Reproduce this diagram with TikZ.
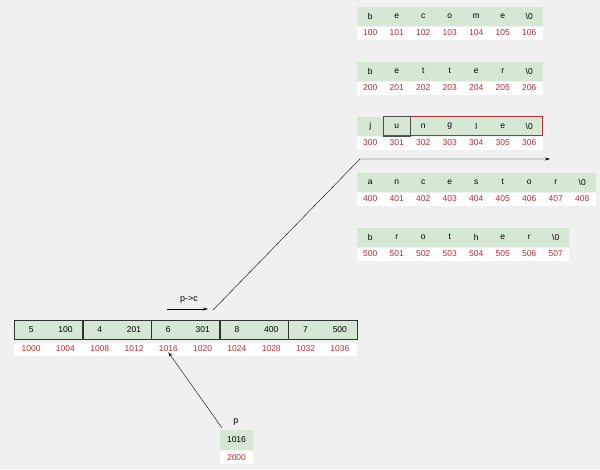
\documentclass[tikz,border=0pt]{standalone}
\usepackage{fontspec}
\setmainfont{Liberation Sans}
\usetikzlibrary{arrows.meta}
\definecolor{bg}{HTML}{F0F0F0}
\definecolor{cellg}{HTML}{D5E8D4}
\definecolor{addr}{HTML}{C0282F}
\tikzset{
  cell/.style={fill=cellg,draw=none,minimum width=26.5pt,minimum height=19pt,inner sep=0pt,font=\fontsize{8.5}{9}\selectfont},
  adr/.style={text=addr,font=\fontsize{8.5}{9}\selectfont,inner sep=0pt},
  lbl/.style={font=\fontsize{9}{10}\selectfont,inner sep=0pt},
  arr/.style={-{Stealth[length=5pt,width=3pt]},thin}
}
\begin{document}
\begin{tikzpicture}[x=1pt,y=-1pt]
\fill[bg] (0,0) rectangle (600,469);
\useasboundingbox (0,0) rectangle (600,469);
% strings
\foreach \row/\y/\base/\chars in {0/16/100/{b,e,c,o,m,e,\textbackslash 0},1/71/200/{b,e,t,t,e,r,\textbackslash 0},2/126/300/{j,u,n,g,l,e,\textbackslash 0},3/182/400/{a,n,c,e,s,t,o,r,\textbackslash 0},4/237/500/{b,r,o,t,h,e,r,\textbackslash 0}}{
  \foreach \c [count=\i from 0] in \chars {
    \node[cell] (s\row-\i) at ({370.25+26.5*\i},\y) {\c};
    \pgfmathtruncatemacro{\a}{\base+\i}
    \fill[white] ({357+26.5*\i},{\y+11}) rectangle ({383.5+26.5*\i},{\y+24});
    \node[adr] (a\row-\i) at ({370.25+26.5*\i},{\y+17}) {\a};
  }
}
\draw[addr,thick] (s2-1.north west) rectangle (s2-6.south east);
\draw[black!70] (s2-1.north west) rectangle (s2-1.south east);
% bottom array
\foreach \v [count=\i from 0] in {5,100,4,201,6,301,8,400,7,500}{
  \node[cell,minimum width=34.3pt] (b\i) at ({14+17.15+34.3*\i},329.5) {\v};
  \pgfmathtruncatemacro{\a}{1000+4*\i}
  \fill[white] ({14+34.3*\i},343) rectangle ({48.3+34.3*\i},356);
  \node[adr] (ba\i) at ({14+17.15+34.3*\i},349) {\a};
}
\foreach \i in {0,2,4,6,8}{
  \pgfmathtruncatemacro{\j}{\i+1}
  \draw[black!80] (b\i.north west) rectangle (b\j.south east);
}
% p->c
\node[lbl] (pc) at (189,300) {p->c};
\coordinate (pcs) at (167,309);
\coordinate (pce) at (208,309);
\draw[arr] (pcs) -- (pce);
\coordinate (up0) at (213,310);
\coordinate (up1) at (360,159);
\coordinate (up2) at (550,159);
\draw[arr] (up0) -- (up1) -- (up2);
% p
\node[lbl] (plab) at (236,422) {p};
\node[cell,minimum width=33pt,minimum height=20pt] (pbox) at (236.5,440) {1016};
\fill[white] (220,451) rectangle (253,464);
\node[adr] (paddr) at (236.5,458) {2000};
\draw[arr] (222,428) -- (ba4.south);
\end{tikzpicture}
\end{document}
